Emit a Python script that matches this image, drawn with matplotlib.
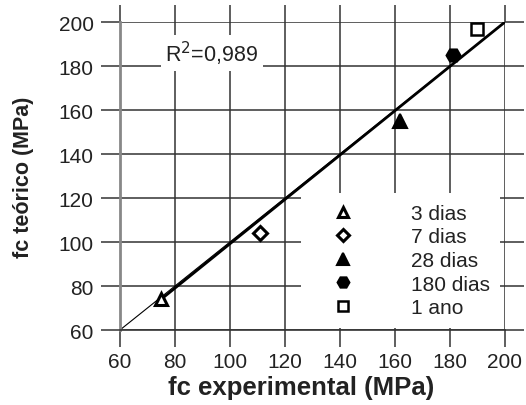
import matplotlib
matplotlib.use("Agg")
import matplotlib.pyplot as plt
import numpy as np

plt.rcParams['font.family'] = ['Liberation Sans', 'DejaVu Sans']

# Data
series = ["3 dias", "7 dias", "28 dias", "180 dias", "1 ano"]
x_exp = [75, 111, 162, 181, 190]
y_teo = [74, 104, 155, 185, 197]
ticks = [60, 80, 100, 120, 140, 160, 180, 200]
fit_x = [75, 200]
fit_y = [74, 200]
ident = [60, 200]

fig = plt.figure(figsize=(5.26, 4.06), dpi=100)
ax = fig.add_axes([0.228, 0.1847, 0.732, 0.7586])
ax.set_xlim(60, 200)
ax.set_ylim(60, 200)
ax.set_xticks(ticks)
ax.set_yticks(ticks)

gc = '#333333'
for s in ['top', 'right']:
    ax.spines[s].set_visible(False)
ax.spines['left'].set_color('#888888')
ax.spines['left'].set_linewidth(2)
ax.spines['bottom'].set_color(gc)
ax.spines['bottom'].set_linewidth(1.2)

ax.grid(True, color=gc, linewidth=1.1, zorder=0)
ax.tick_params(axis='both', which='both', direction='out', color=gc, width=1.1,
               top=True, right=True, labelsize=15, labelcolor='#222222')
ax.tick_params(axis='x', length=12, pad=4)
ax.tick_params(axis='y', length=14, pad=5)

ax.plot(ident, ident, color='black', linewidth=0.8, zorder=2)
ax.plot(fit_x, fit_y, color='black', linewidth=2.0, zorder=2)

styles = [
    dict(marker='^', mfc='white', mec='black', mew=2.2, ms=9),
    dict(marker='D', mfc='white', mec='black', mew=2.2, ms=7),
    dict(marker='^', mfc='black', mec='black', mew=1.5, ms=10),
    dict(marker='H', mfc='black', mec='black', mew=1.5, ms=10),
    dict(marker='s', mfc='white', mec='black', mew=1.8, ms=8),
]
for lab, xv, yv, st in zip(series, x_exp, y_teo, styles):
    ax.plot([xv], [yv], linestyle='none', label=lab, zorder=4, **st)

ax.text(76.5, 186, r"R$^2$=0,989", fontsize=15.5, va='center', ha='left', color='#222222',
        bbox=dict(facecolor='white', edgecolor='none', pad=3), zorder=3)

leg = ax.legend(loc='lower right', bbox_to_anchor=(0.987, 0.008), frameon=True,
                fontsize=15, handlelength=3.0, handletextpad=1.75,
                labelspacing=0.22, borderpad=0.5, borderaxespad=0.0,
                markerscale=0.85)
leg.get_frame().set_facecolor('white')
leg.get_frame().set_edgecolor('none')
leg.get_frame().set_alpha(1.0)
leg.get_frame().set_boxstyle('square', pad=0)
leg.set_zorder(5)
for t in leg.get_texts():
    t.set_color('#222222')

ax.set_xlabel("fc experimental (MPa)", fontsize=18.5, fontweight='bold', color='#222222')
ax.xaxis.set_label_coords(0.47, -0.145)
ax.set_ylabel("fc teórico (MPa)", fontsize=15.5, fontweight='bold', color='#222222')
ax.yaxis.set_label_coords(-0.222, 0.5)

fig.savefig("out.png", dpi=100)
